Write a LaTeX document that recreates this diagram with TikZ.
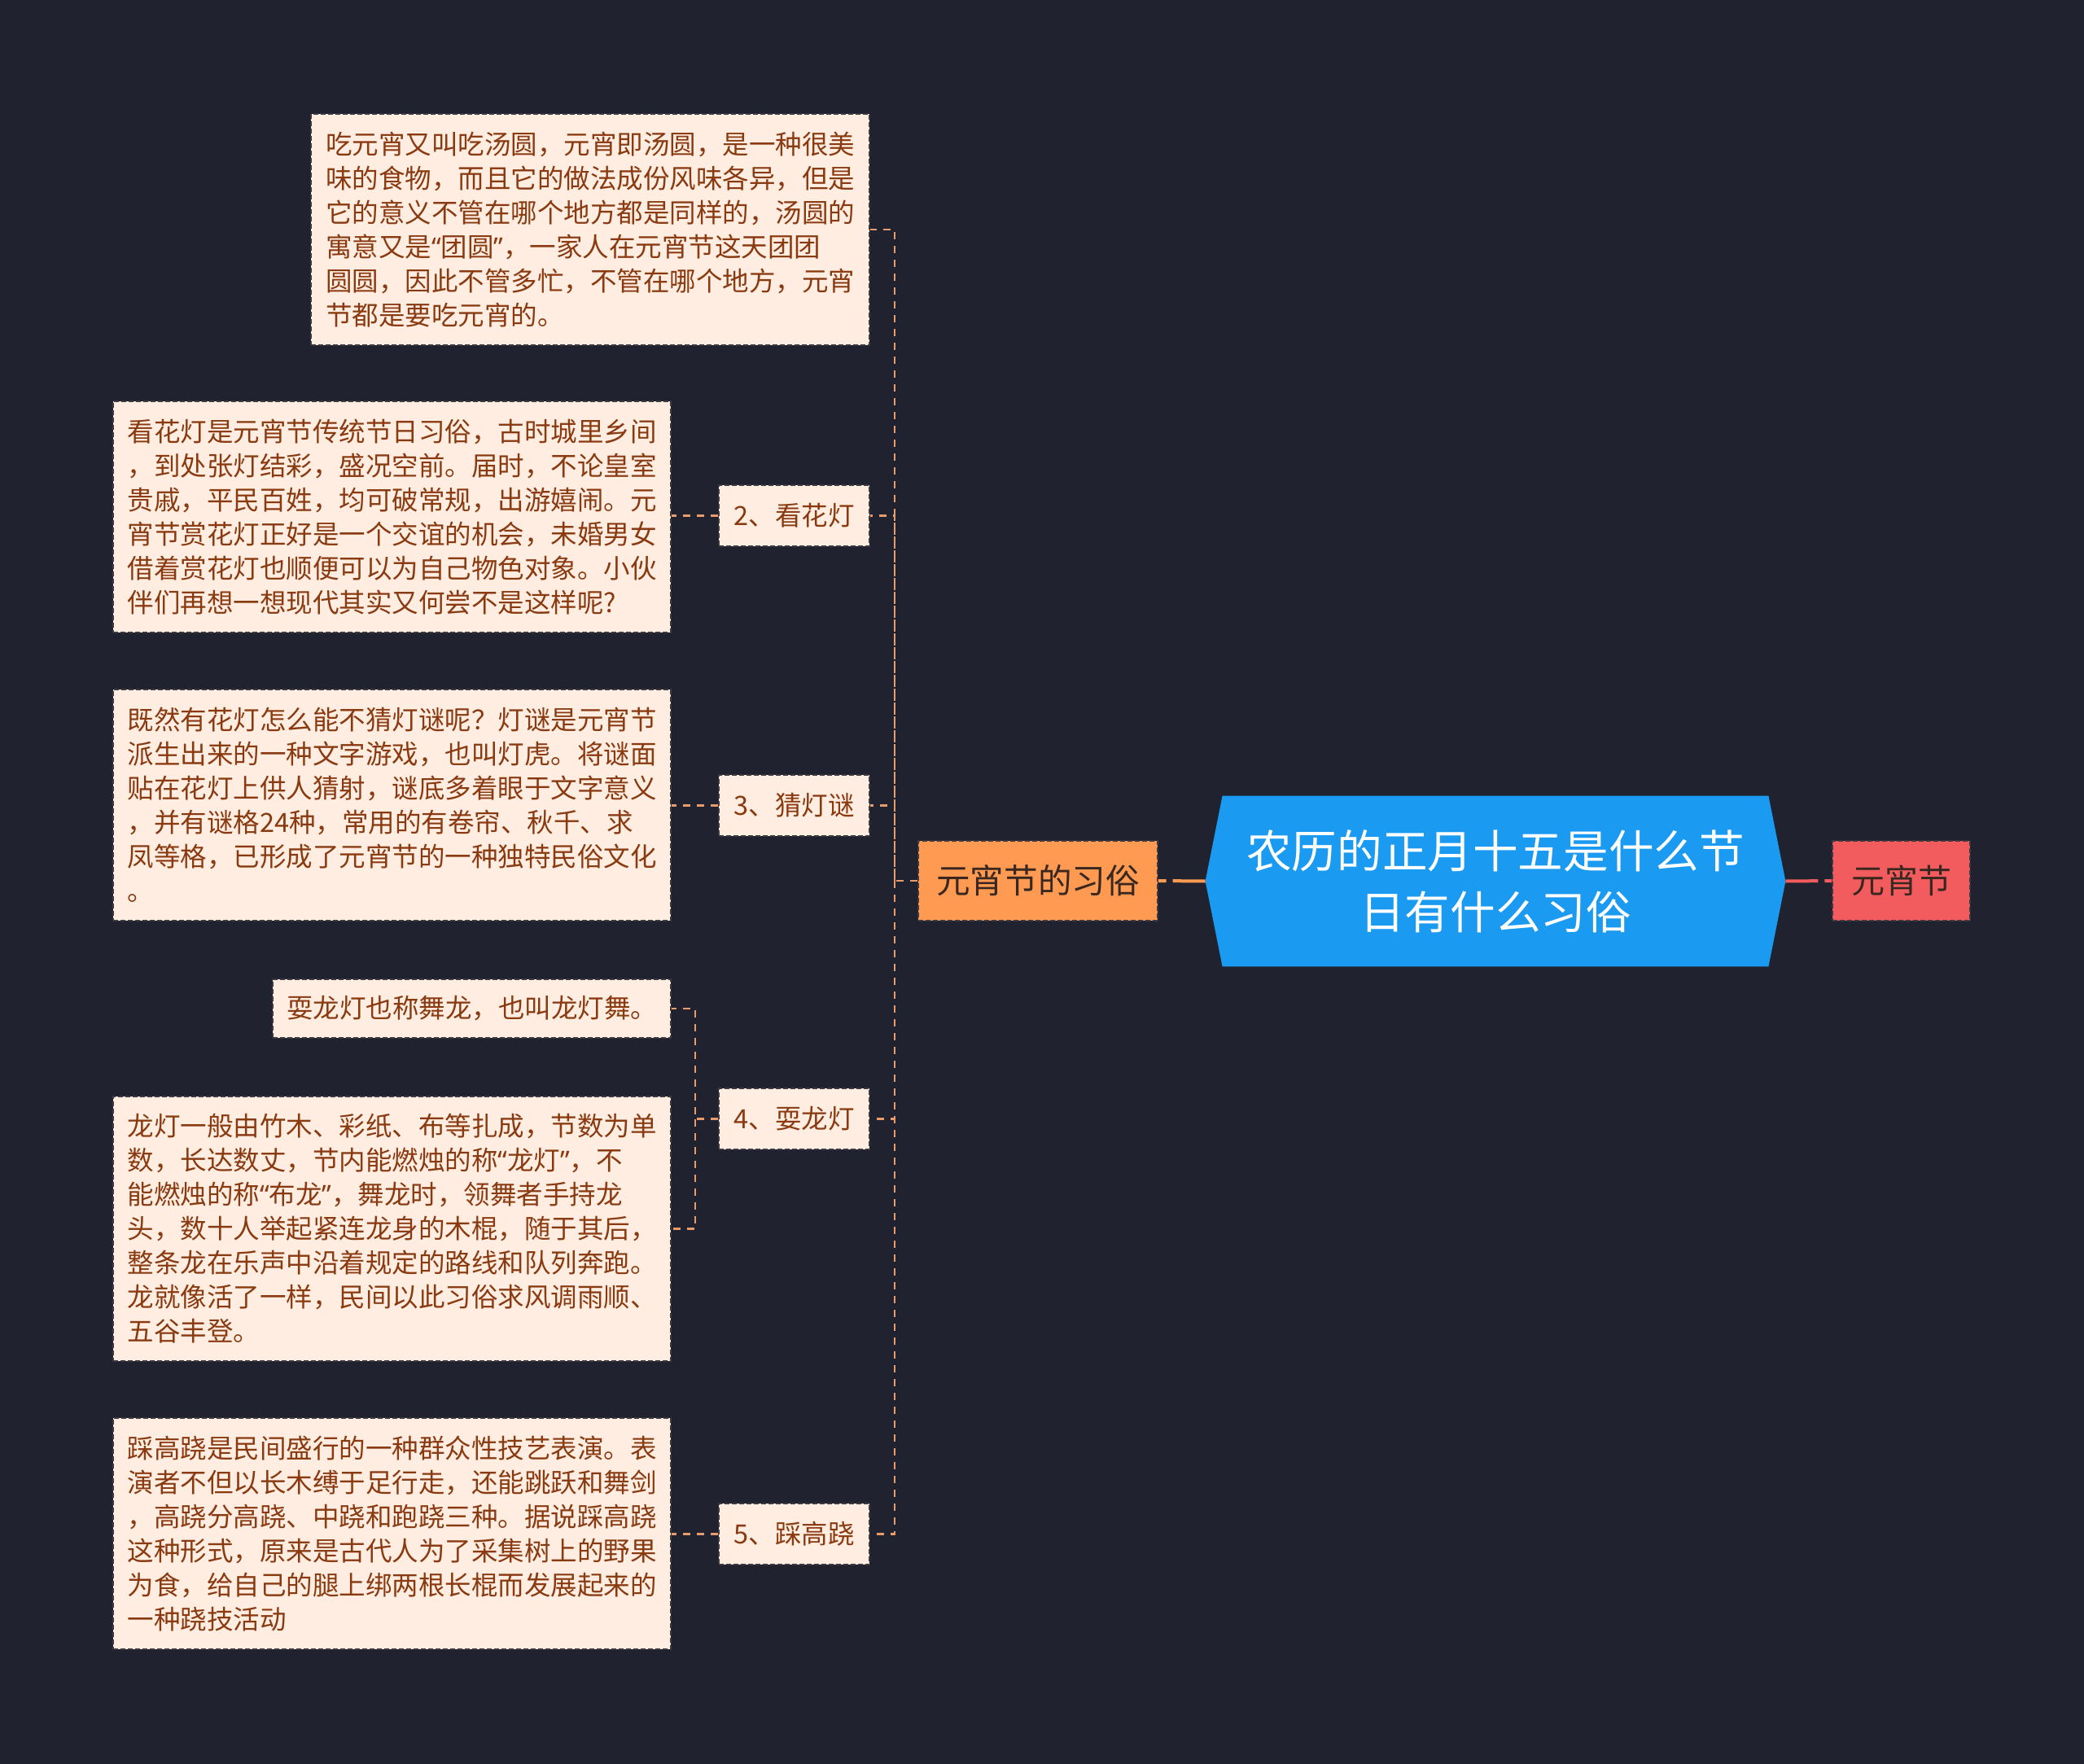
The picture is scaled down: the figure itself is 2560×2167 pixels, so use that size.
\documentclass[tikz,border=0pt]{standalone}
\usepackage{fontspec}
\setmainfont{Noto Sans CJK SC}
\newfontfamily\latinq{Noto Sans}
\newcommand\myqo{{\latinq “}}
\newcommand\myqc{{\latinq ”}}
\definecolor{bg}{HTML}{20232F}
\definecolor{peach}{HTML}{FFEDE1}
\definecolor{brn}{HTML}{8A3A10}
\definecolor{edge}{HTML}{3C3A40}
\definecolor{connc}{HTML}{E89C6C}
\definecolor{orng}{HTML}{FF9A52}
\definecolor{blu}{HTML}{1A9AF0}
\definecolor{redn}{HTML}{F25C5E}
\definecolor{darktxt}{HTML}{3A2820}
\tikzset{
  txtbox/.style={fill=peach, draw=edge, dash pattern=on 3pt off 1.5pt, line width=0.8pt,
    text=brn, font=\fontsize{16.25}{21}\selectfont, align=left, inner sep=0pt},
  lblbox/.style={txtbox, align=center, minimum width=92.5pt, minimum height=37.5pt},
  conn/.style={draw=connc, dash pattern=on 4.5pt off 4pt, line width=1.1pt},
  thickconn/.style={line width=2pt, dash pattern=on 20pt off 4pt}
}
\begin{document}
\begin{tikzpicture}[x=0.5pt,y=-0.5pt]
\fill[bg] (0,0) rectangle (2560,2167);
\useasboundingbox (0,0) rectangle (2560,2167);

% coordinates for trunks
\coordinate (tk) at (1099,0);
\coordinate (tk4) at (854,0);

% root
\node[minimum width=335pt, minimum height=104.5pt, inner sep=0pt] (root) at (1837,1082.5) {};
\fill[blu] (root.north west) -- (root.north east) -- ([xshift=10.5pt]root.east) -- (root.south east) -- (root.south west) -- ([xshift=-10.5pt]root.west) -- cycle;
\node[text=white, font=\fontsize{27.8}{37.5}\selectfont, align=center] (roottxt) at (root.center) {农历的正月十五是什么节\\日有什么习俗};
\coordinate (rootL) at ([xshift=-10.5pt]root.west);
\coordinate (rootR) at ([xshift=10.5pt]root.east);

% first level
\node[txtbox, fill=orng, text=darktxt, font=\fontsize{20.8}{25}\selectfont, minimum width=147pt, minimum height=49pt] (cust) at (1275,1082) {元宵节的习俗};
\node[txtbox, fill=redn, text=darktxt, font=\fontsize{20.5}{25}\selectfont, minimum width=84.5pt, minimum height=49pt] (yxj) at (2335.5,1082) {元宵节};

% text boxes
\node[txtbox, minimum width=343pt, minimum height=142pt] (b1) at (725,282) {吃元宵又叫吃汤圆，元宵即汤圆，是一种很美\\味的食物，而且它的做法成份风味各异，但是\\它的意义不管在哪个地方都是同样的，汤圆的\\寓意又是\myqo 团圆\myqc，一家人在元宵节这天团团\\圆圆，因此不管多忙，不管在哪个地方，元宵\\节都是要吃元宵的。};

\node[txtbox, minimum width=342.5pt, minimum height=142pt] (b2) at (481.5,635) {看花灯是元宵节传统节日习俗，古时城里乡间\\，到处张灯结彩，盛况空前。届时，不论皇室\\贵戚，平民百姓，均可破常规，出游嬉闹。元\\宵节赏花灯正好是一个交谊的机会，未婚男女\\借着赏花灯也顺便可以为自己物色对象。小伙\\伴们再想一想现代其实又何尝不是这样呢?};

\node[txtbox, minimum width=342.5pt, minimum height=142pt] (b3) at (481.5,989) {既然有花灯怎么能不猜灯谜呢？灯谜是元宵节\\派生出来的一种文字游戏，也叫灯虎。将谜面\\贴在花灯上供人猜射，谜底多着眼于文字意义\\，并有谜格24种，常用的有卷帘、秋千、求\\凤等格，已形成了元宵节的一种独特民俗文化\\。};

\node[txtbox, minimum width=244.5pt, minimum height=36pt] (b4a) at (579.5,1239) {耍龙灯也称舞龙，也叫龙灯舞。};

\node[txtbox, minimum width=342.5pt, minimum height=162.5pt] (b4b) at (481.5,1509.5) {龙灯一般由竹木、彩纸、布等扎成，节数为单\\数，长达数丈，节内能燃烛的称\myqo 龙灯\myqc，不\\能燃烛的称\myqo 布龙\myqc，舞龙时，领舞者手持龙\\头，数十人举起紧连龙身的木棍，随于其后，\\整条龙在乐声中沿着规定的路线和队列奔跑。\\龙就像活了一样，民间以此习俗求风调雨顺、\\五谷丰登。};

\node[txtbox, minimum width=342.5pt, minimum height=142pt] (b5) at (481.5,1884) {踩高跷是民间盛行的一种群众性技艺表演。表\\演者不但以长木缚于足行走，还能跳跃和舞剑\\，高跷分高跷、中跷和跑跷三种。据说踩高跷\\这种形式，原来是古代人为了采集树上的野果\\为食，给自己的腿上绑两根长棍而发展起来的\\一种跷技活动};

% labels
\node[lblbox] (L2) at (975.5,633.5) {2、看花灯};
\node[lblbox] (L3) at (975.5,989.5) {3、猜灯谜};
\node[lblbox] (L4) at (975.5,1374.5) {4、耍龙灯};
\node[lblbox] (L5) at (975.5,1884.5) {5、踩高跷};

% connectors root
\draw[thickconn, draw=orng] (rootL) -- (cust.east);
\draw[thickconn, draw=redn] (rootR) -- (yxj.west);

% trunk connectors
\draw[conn] (cust.west) -- (cust.west -| tk) |- (b1.east);
\draw[conn] (cust.west -| tk) |- (L2.east);
\draw[conn] (cust.west -| tk) |- (L3.east);
\draw[conn] (cust.west -| tk) |- (L4.east);
\draw[conn] (cust.west -| tk) |- (L5.east);

% label to boxes
\draw[conn] (L2.west) -- (b2.east |- L2.west);
\draw[conn] (L3.west) -- (b3.east |- L3.west);
\draw[conn] (L5.west) -- (b5.east |- L5.west);
\draw[conn] (L4.west) -- (L4.west -| tk4) |- (b4a.east);
\draw[conn] (L4.west -| tk4) |- (b4b.east);
\end{tikzpicture}
\end{document}
